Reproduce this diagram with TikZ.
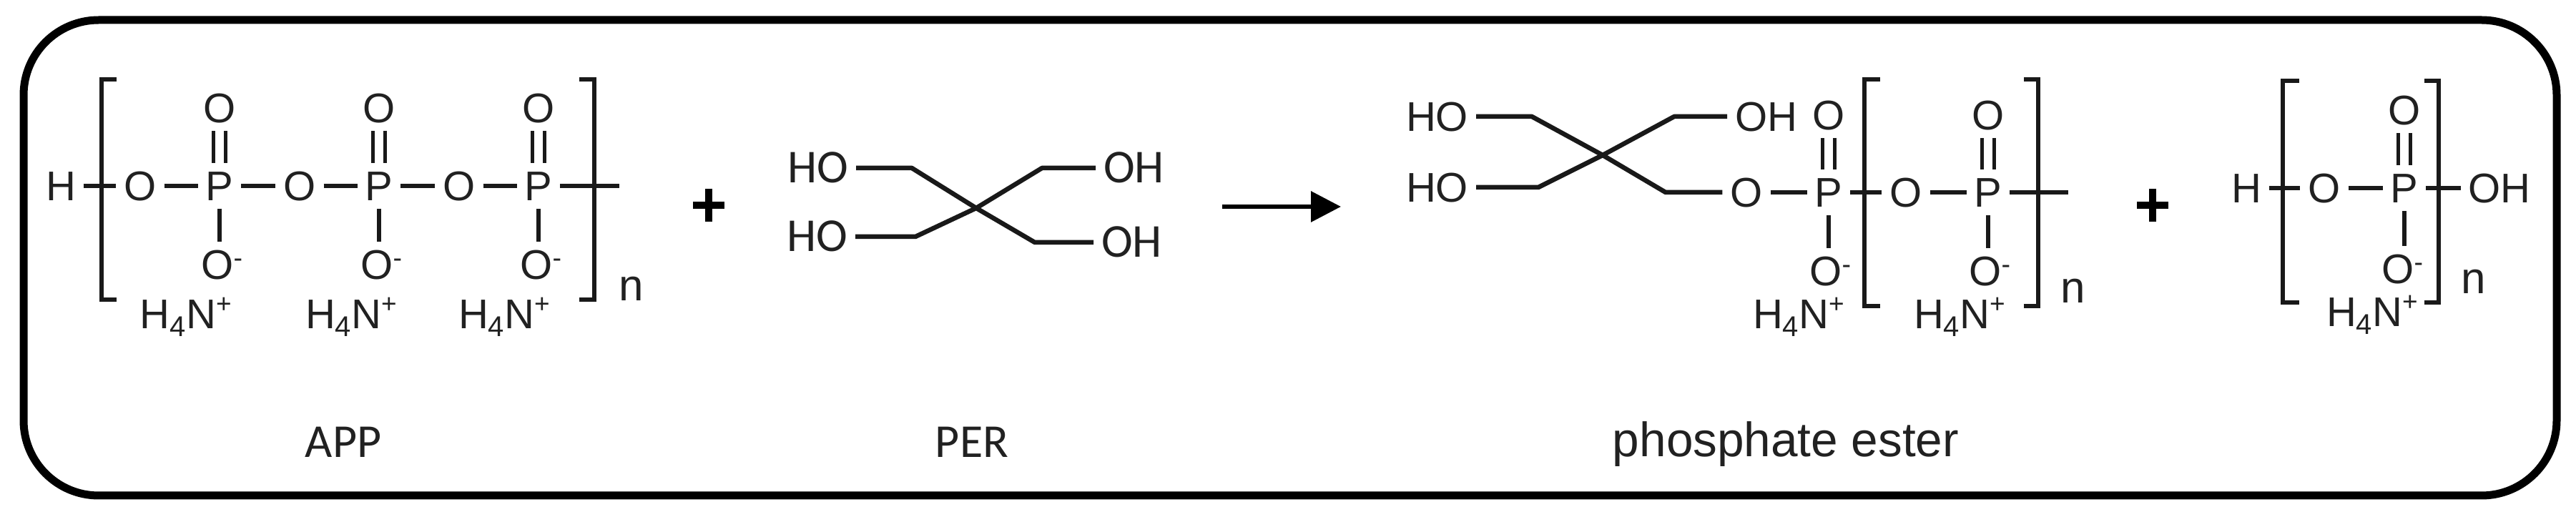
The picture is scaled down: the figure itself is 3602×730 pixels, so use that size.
\documentclass[tikz,border=0pt]{standalone}
\usepackage{fontspec}
\setmainfont{Liberation Sans}
\newfontfamily\calfont{Carlito}
\usetikzlibrary{arrows.meta}
\definecolor{ink}{gray}{0.13}
\newcommand\pxfont[1]{\fontsize{#1}{#1}\selectfont}
\newcommand\subfour{\raisebox{-2.2pt}{\pxfont{8}4}}
\newcommand\supplus{\raisebox{4.4pt}{\pxfont{7.4}+}}
\newcommand\ammon{H\subfour N\supplus}
\newcommand\oxminus{O\rlap{\raisebox{3.4pt}{\pxfont{7.5}-}}}
\tikzset{
  atom/.style={font=\pxfont{11.6},text=ink,inner sep=2pt,text height=8.4pt,text depth=0pt},
  calatom/.style={font=\calfont\pxfont{13.2},text=ink,inner sep=2pt,text height=8.4pt,text depth=0pt},
  salt/.style={font=\pxfont{11.6},text=ink,inner sep=0pt,anchor=base west},
  caption/.style={font=\calfont\pxfont{13.2},text=ink,inner sep=0pt,anchor=base},
  repeatn/.style={font=\pxfont{12.4},text=ink,inner sep=0pt,anchor=base},
  bond/.style={line width=1.1pt,black!90},
  thickbond/.style={line width=1.3pt,black!90,line join=round},
  dblbond/.style={line width=1.1pt,draw=black!90,double=white,double distance=2.3pt},
  bracket/.style={line width=1.1pt,black!90},
  frame/.style={line width=2.2pt,black,rounded corners=21pt},
  plussign/.style={line width=2pt,black},
  reactarrow/.style={line width=1.3pt,black,-{Triangle[length=8.4pt,width=8.4pt]}},
}
% name, P x, row y, top O y, lower O y, lower O x offset, salt left x, salt baseline
\newcommand\phos[8]{%
  \node[atom] (#1) at (#2,#3) {P};
  \node[atom] (#1t) at (#2,#4) {O};
  \node[atom] (#1b) at ({#2-#6},#5) {\oxminus};
  \node[salt] (#1s) at (#7,#8) {\ammon};
  \draw[dblbond] (#1t) -- (#1);
  \draw[bond] (#1.south) -- (#1.south |- #1b.north);
}
% x, y1, y2, tick length (signed)
\newcommand\polybrack[4]{%
  \draw[bracket] ({#1+#4},#2) -- (#1,#2) -- (#1,#3) -- ({#1+#4},#3);
}
\newcommand\plusat[2]{%
  \draw[plussign] ({#1-22},#2) -- ({#1+22},#2) ({#1},{#2-23}) -- ({#1},{#2+23});
}
\begin{document}
\begin{tikzpicture}[x=0.2pt,y=-0.2pt]
\useasboundingbox (0,0) rectangle (3602,730);
\fill[white] (0,0) rectangle (3602,730);
\draw[frame] (33,28) rectangle (3575,693);

% APP
\node[atom] (aH) at (85,260) {H};
\node[atom] (aO1) at (196,260) {O};
\node[atom] (aO2) at (419,260) {O};
\node[atom] (aO3) at (642,260) {O};
\coordinate (aEnd) at (866,260);
\phos{aP1}{307}{260}{151}{370}{3}{195}{460}
\phos{aP2}{530}{260}{151}{370}{3}{426}{460}
\phos{aP3}{753}{260}{151}{370}{3}{640}{460}
\draw[bond] (aH) -- (aO1);
\draw[bond] (aO1) -- (aP1);
\draw[bond] (aP1) -- (aO2);
\draw[bond] (aO2) -- (aP2);
\draw[bond] (aP2) -- (aO3);
\draw[bond] (aO3) -- (aP3);
\draw[bond] (aP3) -- (aEnd);
\polybrack{142}{111}{419}{21}
\polybrack{831}{111}{419}{-21}
\node[repeatn] (an) at (883,421) {n};
\node[caption] (appL) at (480,640) {APP};

\plusat{991}{287}

% PER
\coordinate (pC) at (1365,291);
\coordinate (pA) at (1275,235);
\coordinate (pB) at (1280,331);
\coordinate (pD) at (1457,235);
\coordinate (pE) at (1447,339);
\node[calatom,anchor=east] (pHO1) at (1197,235) {HO};
\node[calatom,anchor=east] (pHO2) at (1196,331) {HO};
\node[calatom,anchor=west] (pOH1) at (1532,235) {OH};
\node[calatom,anchor=west] (pOH2) at (1529,339) {OH};
\draw[thickbond] (pHO1.east) -- (pA) -- (pC) -- (pE) -- (pOH2.west);
\draw[thickbond] (pHO2.east) -- (pB) -- (pC) -- (pD) -- (pOH1.west);
\node[caption] (perL) at (1359,640) {PER};

% reaction arrow
\coordinate (rS) at (1709,289);
\coordinate (rT) at (1875,289);
\draw[reactarrow] (rS) -- (rT);

% phosphate ester
\coordinate (eC) at (2241,217);
\coordinate (eA) at (2142,163);
\coordinate (eB) at (2151,262);
\coordinate (eD) at (2341,163);
\coordinate (eE) at (2329,269);
\node[atom,anchor=east] (eHO1) at (2064,163) {HO};
\node[atom,anchor=east] (eHO2) at (2064,262) {HO};
\node[atom,anchor=west] (eOH1) at (2415,163) {OH};
\node[atom] (eO1) at (2442,269) {O};
\node[atom] (eO2) at (2665,269) {O};
\coordinate (eEnd) at (2892,269);
\phos{eP1}{2557}{269}{161}{379}{4}{2450}{460}
\phos{eP2}{2780}{269}{161}{379}{4}{2675}{460}
\draw[thickbond] (eHO1.east) -- (eA) -- (eC) -- (eE) -- (eO1.west);
\draw[thickbond] (eHO2.east) -- (eB) -- (eC) -- (eD) -- (eOH1.west);
\draw[bond] (eO1) -- (eP1);
\draw[bond] (eP1) -- (eO2);
\draw[bond] (eO2) -- (eP2);
\draw[bond] (eP2) -- (eEnd);
\polybrack{2607}{111}{428}{22}
\polybrack{2850}{111}{428}{-20}
\node[repeatn] (en) at (2899,424) {n};
\node[font=\pxfont{13.5},text=ink,inner sep=0pt,anchor=base] (esterL) at (2497,639) {phosphate ester};

\plusat{3010}{287}

% free phosphate
\node[atom] (fH) at (3141,263) {H};
\node[atom] (fO1) at (3250,263) {O};
\node[atom] (fOH) at (3495,263) {OH};
\phos{fP}{3362}{263}{154}{376}{9}{3252}{457}
\draw[bond] (fH) -- (fO1);
\draw[bond] (fO1) -- (fP);
\draw[bond] (fP) -- (fOH);
\polybrack{3192}{113}{423}{23}
\polybrack{3410}{113}{423}{-20}
\node[repeatn] (fn) at (3459,411) {n};
\end{tikzpicture}
\end{document}
